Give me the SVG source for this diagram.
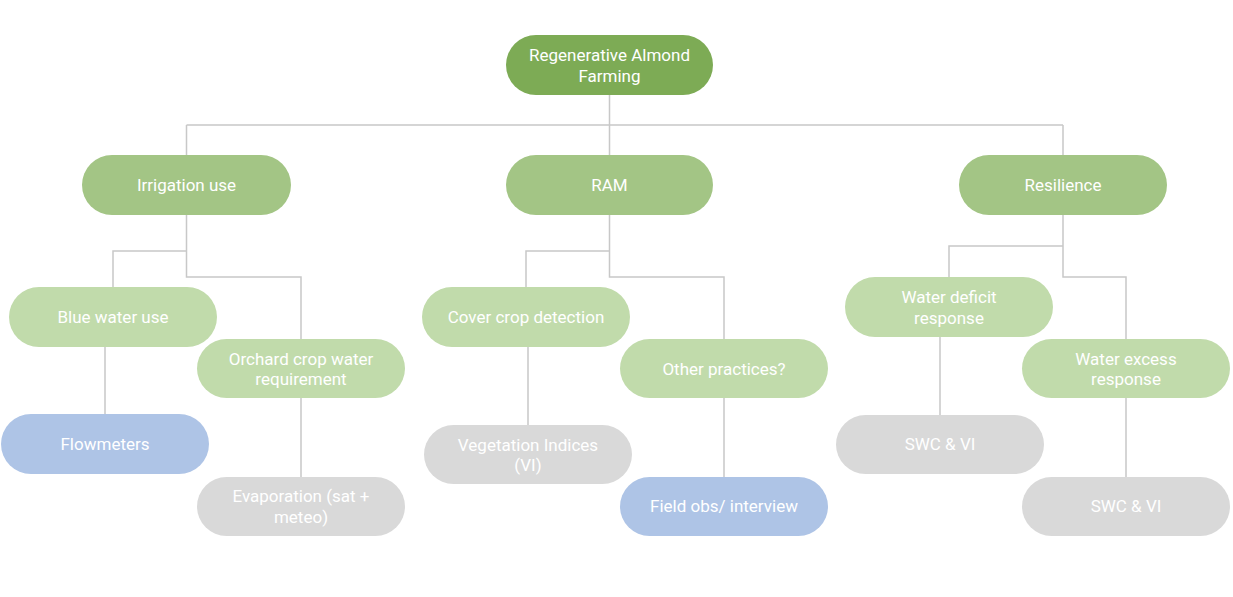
<svg xmlns="http://www.w3.org/2000/svg" width="1233" height="597" viewBox="0 0 1233 597">
<style>
text{font-family:Roboto,"Liberation Sans",sans-serif;font-size:17px;fill:#ffffff;text-anchor:middle}
.l0{fill:#7dab55}
.l1{fill:#a3c585}
.l2{fill:#c1dbab}
.bl{fill:#aec4e6}
.gr{fill:#d9d9d9}
.c{fill:none;stroke:#c8c8c8;stroke-width:1.5}
</style>
<rect width="1233" height="597" fill="#ffffff"/>
<g id="connectors">
<path class="c" d="M609.5 95V125M186.5 125H1063M186.5 125V155M609.5 125V155M1063 125V155"/>
<path class="c" d="M186.5 215V251H113V287M186.5 251V277H301V339"/>
<path class="c" d="M105 347V414M301 398V477"/>
<path class="c" d="M609.5 215V251H526V287M609.5 251V277H724V339"/>
<path class="c" d="M528 347V425M724 398V477"/>
<path class="c" d="M1063 215V246H949V277M1063 246V277H1126V339"/>
<path class="c" d="M940 337V415M1126 398V477"/>
</g>
<g id="root"><rect class="l0" x="506" y="35" width="207" height="60" rx="30"/><text x="609.5" y="61">Regenerative Almond</text><text x="609.5" y="82">Farming</text></g>
<g id="irrigation"><rect class="l1" x="82" y="155" width="209" height="60" rx="30"/><text x="186.5" y="191">Irrigation use</text></g>
<g id="ram"><rect class="l1" x="506" y="155" width="207" height="60" rx="30"/><text x="609.5" y="191">RAM</text></g>
<g id="resilience"><rect class="l1" x="959" y="155" width="208" height="60" rx="30"/><text x="1063" y="191">Resilience</text></g>
<g id="bluewater"><rect class="l2" x="9" y="287" width="208" height="60" rx="30"/><text x="113" y="323">Blue water use</text></g>
<g id="orchard"><rect class="l2" x="197" y="339" width="208" height="59" rx="29.5"/><text x="301" y="365">Orchard crop water</text><text x="301" y="385">requirement</text></g>
<g id="flowmeters"><rect class="bl" x="1" y="414" width="208" height="60" rx="30"/><text x="105" y="450">Flowmeters</text></g>
<g id="evaporation"><rect class="gr" x="197" y="477" width="208" height="59" rx="29.5"/><text x="301" y="502">Evaporation (sat +</text><text x="301" y="523">meteo)</text></g>
<g id="covercrop"><rect class="l2" x="422" y="287" width="208" height="60" rx="30"/><text x="526" y="323">Cover crop detection</text></g>
<g id="other"><rect class="l2" x="620" y="339" width="208" height="59" rx="29.5"/><text x="724" y="375">Other practices?</text></g>
<g id="vi"><rect class="gr" x="424" y="425" width="208" height="59" rx="29.5"/><text x="528" y="451">Vegetation Indices</text><text x="528" y="471">(VI)</text></g>
<g id="fieldobs"><rect class="bl" x="620" y="477" width="208" height="59" rx="29.5"/><text x="724" y="512">Field obs/ interview</text></g>
<g id="deficit"><rect class="l2" x="845" y="277" width="208" height="60" rx="30"/><text x="949" y="303">Water deficit</text><text x="949" y="324">response</text></g>
<g id="excess"><rect class="l2" x="1022" y="339" width="208" height="59" rx="29.5"/><text x="1126" y="365">Water excess</text><text x="1126" y="385">response</text></g>
<g id="swc1"><rect class="gr" x="836" y="415" width="208" height="59" rx="29.5"/><text x="940" y="450">SWC &amp; VI</text></g>
<g id="swc2"><rect class="gr" x="1022" y="477" width="208" height="59" rx="29.5"/><text x="1126" y="512">SWC &amp; VI</text></g>
</svg>
